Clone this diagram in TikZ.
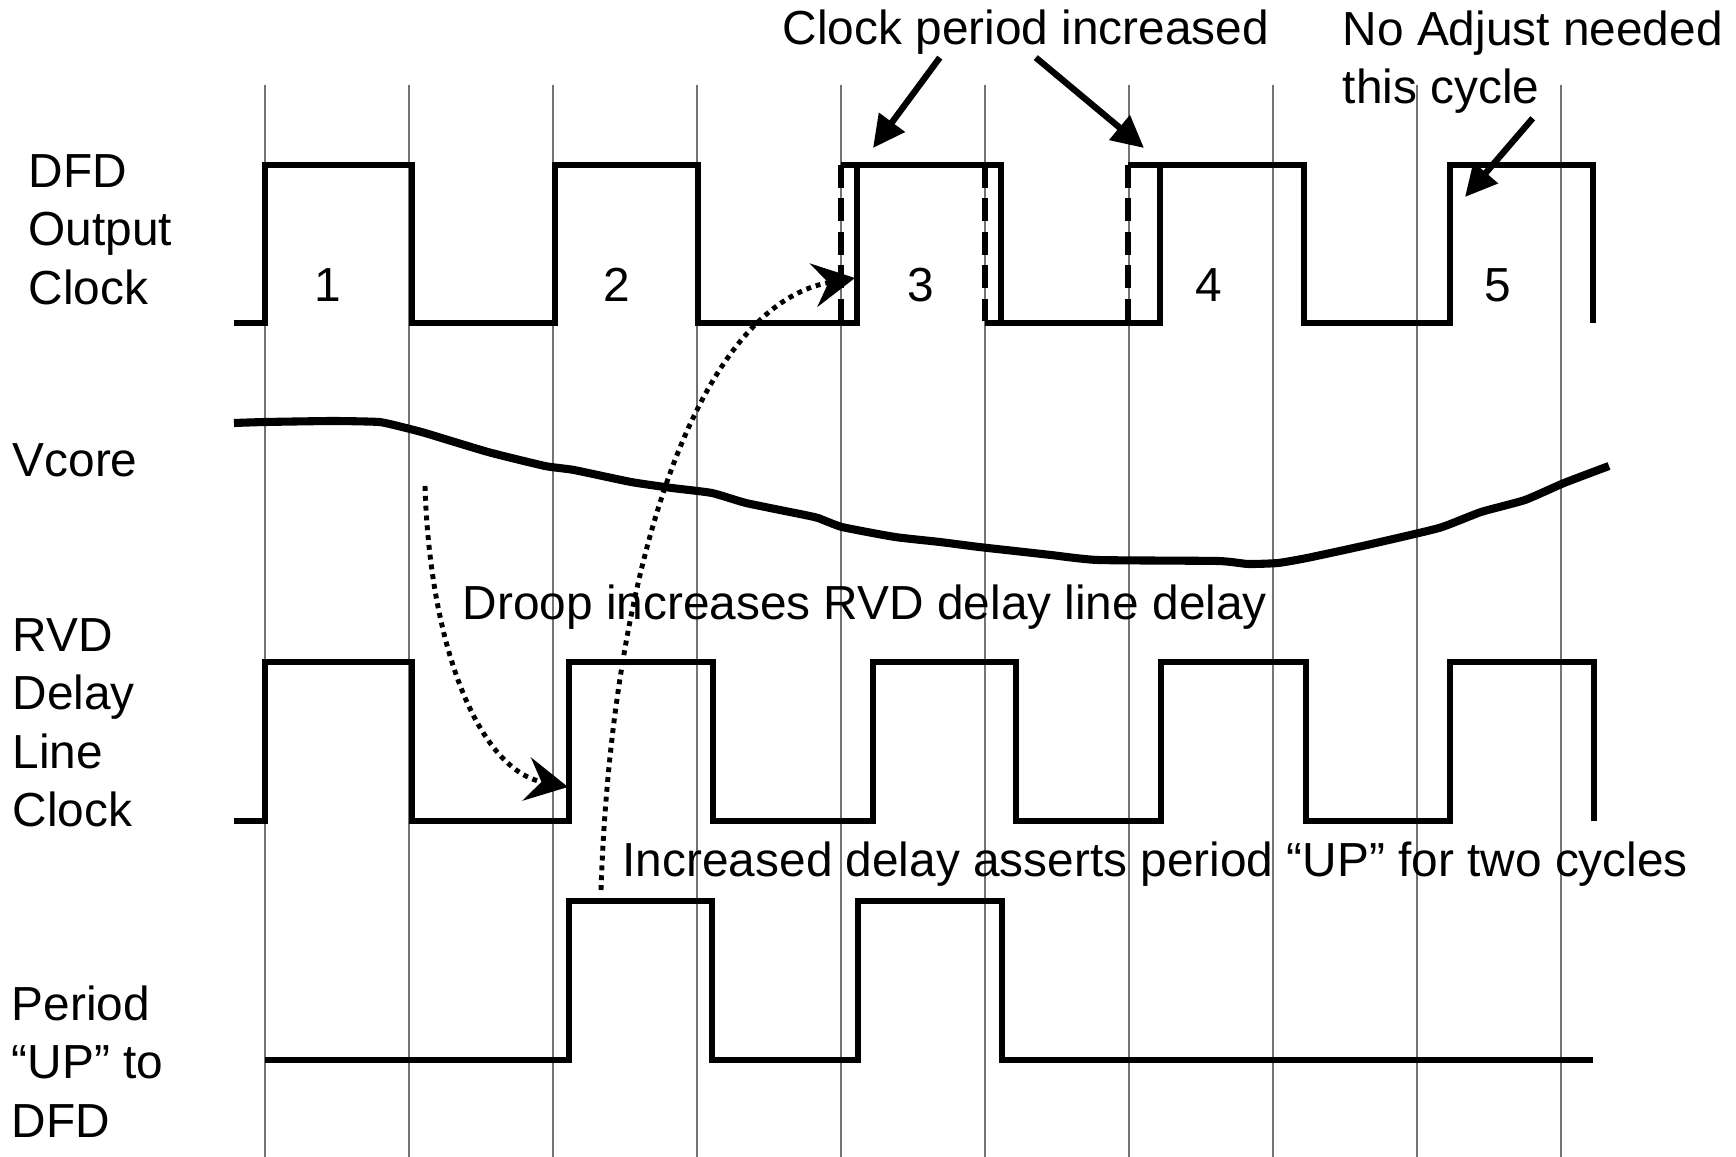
\documentclass[tikz,border=0pt]{standalone}
\usepackage{fontspec}
\setmainfont{Liberation Sans}
\usetikzlibrary{arrows.meta}

\tikzstyle{signame} = [
    anchor=north west, align=left, inner sep=0pt,
    font=\fontsize{13.6}{16.6}\selectfont
]
\tikzstyle{note} = [
    anchor=base west, inner sep=0pt,
    font=\fontsize{13.6}{16.6}\selectfont
]
\tikzstyle{cyclenum} = [anchor=base, inner sep=0pt, font=\fontsize{13.6}{16.6}\selectfont]
\tikzstyle{gridline} = [black!55, line width=0.35pt]
\tikzstyle{wave} = [line width=1.5pt]
\tikzstyle{olddash} = [line width=1.5pt, dash pattern=on 6.5pt off 3pt]
\tikzstyle{vcore} = [line width=2.3pt, line join=round]
\tikzstyle{arrow} = [line width=1.8pt, -{Triangle[length=3.2mm,width=3.1mm]}]
\tikzstyle{dotarrow} = [line width=1.4pt, dash pattern=on 1.4pt off 1.4pt,
    -{Stealth[length=4.2mm,width=4.4mm,inset=1.5mm]}]

\begin{document}
\begin{tikzpicture}[x=0.1mm, y=-0.1mm]
    \useasboundingbox (0,0) rectangle (1736,1157);

    \foreach \i in {0,...,9}
        \draw [gridline] ({265+144*\i},85) -- ({265+144*\i},1157);

    \node (dfdname) [signame] at (28,154) {DFD\\Output\\Clock};
    \node (vname) [note] at (12,477) {Vcore};
    \node (rvdname) [signame] at (12,618) {RVD\\Delay\\Line\\Clock};
    \node (upname) [signame] at (11,985) {Period\\“UP” to\\DFD};

    \foreach \n/\x in {1/328,2/617,3/921,4/1209,5/1498}
        \node (cyc\n) [cyclenum] at (\x,302) {\n};

    \draw [wave] (234,323) -- (265,323) -- (265,165) -- (412,165) -- (412,323)
        -- (555,323) -- (555,165) -- (698,165) -- (698,323) -- (857,323) -- (857,165);
    \draw [wave] (841,165) -- (1001,165) -- (1001,323);
    \draw [wave] (985,323) -- (1160,323) -- (1160,165);
    \draw [wave] (1128,165) -- (1304,165) -- (1304,323) -- (1450,323)
        -- (1450,165) -- (1593,165) -- (1593,323);
    \draw [olddash] (841,165) -- (841,323);
    \draw [olddash] (985,165) -- (985,323);
    \draw [olddash] (1128,165) -- (1128,323);

    \draw [vcore] plot [smooth, tension=0.3] coordinates {
        (234,423) (265,422) (333,421) (379,422) (402,427) (425,433) (488,452)
        (545,466) (574,470) (631,482) (672,488) (712,493) (746,503) (800,514)
        (818,518) (842,527) (895,537) (940,542) (979,547) (1015,551) (1051,555)
        (1098,560) (1218,561) (1248,564) (1278,563) (1307,558) (1367,545)
        (1439,528) (1481,512) (1525,500) (1564,483) (1609,466)};

    \draw [wave] (234,821) -- (265,821) -- (265,662) -- (412,662) -- (412,821)
        -- (569,821) -- (569,662) -- (713,662) -- (713,821) -- (873,821)
        -- (873,662) -- (1016,662) -- (1016,821) -- (1161,821) -- (1161,662)
        -- (1306,662) -- (1306,821) -- (1450,821) -- (1450,662) -- (1594,662)
        -- (1594,821);

    \draw [wave] (265,1060) -- (569,1060) -- (569,901) -- (712,901) -- (712,1060)
        -- (858,1060) -- (858,901) -- (1002,901) -- (1002,1060) -- (1593,1060);

    \node (incr) [note] at (782,45) {Clock period increased};
    \node (noadj) [note, align=left, anchor=north west] at (1342,10) {No Adjust needed\\this cycle};
    \node (droop) [note] at (462,620) {Droop increases RVD delay line delay};
    \node (assert) [note] at (622,876) {Increased delay asserts period “UP” for two cycles};

    \coordinate (tipA) at (873,148);
    \coordinate (tipB) at (1144,148);
    \coordinate (tipC) at (1465,197);
    \coordinate (droopstart) at (425,486);
    \coordinate (rvdedge) at (568,787);
    \coordinate (upstart) at (601,890);
    \coordinate (dfdedge) at (855,278);

    \draw [arrow] ([xshift=-8.6mm,yshift=-0.2mm]incr.south) -- (tipA);
    \draw [arrow] ([xshift=1.0mm,yshift=-0.2mm]incr.south) -- (tipB);
    \draw [arrow] ([yshift=-0.4mm]noadj.south) -- (tipC);
    \draw [dotarrow] (droopstart) .. controls (430,650) and (480,770) .. (rvdedge);
    \draw [dotarrow] (upstart) .. controls (612,560) and (700,305) .. (dfdedge);
\end{tikzpicture}
\end{document}
